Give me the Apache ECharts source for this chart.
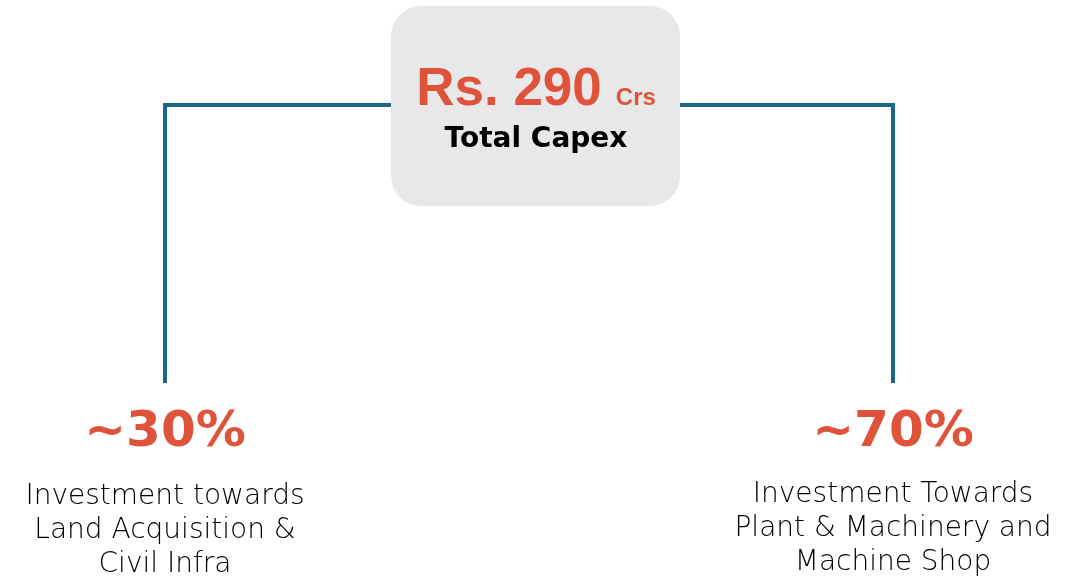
<!DOCTYPE html>
<html>
<head>
<meta charset="utf-8">
<script src="https://cdn.jsdelivr.net/npm/echarts@6/dist/echarts.min.js"></script>
<style>html,body{margin:0;padding:0;background:#fff}#c{width:1081px;height:577px}</style>
</head>
<body>
<div id="c"></div>
<script>
// ---- data ----
const totalValue = 290;
const totalUnit = 'Crs';
const totalLabel = 'Total Capex';
const shareValues = [30, 70];
const shareDescriptions = [
  ['Investment towards', 'Land Acquisition &', 'Civil Infra'],
  ['Investment Towards', 'Plant & Machinery and', 'Machine Shop']
];

const RED = '#e0533b';
const BLUE = '#1c6688';
const FONT = '"DejaVu Sans", "Noto Sans", sans-serif';
const FONT2 = '"Liberation Sans", Arial, sans-serif';

const chart = echarts.init(document.getElementById('c'), null, {renderer: 'canvas'});

// layout constants (not data)
const boxL = 391, boxR = 680, boxT = 6, boxB = 206;
const barY = 105, dropY = 383;
const branchX = [165, 893];
const pctY = [433, 433];
const descY = [[497, 531, 565], [495, 529, 563]];

chart.setOption({
  animation: false,
  xAxis: {show: false, type: 'value', min: 0, max: 1},
  yAxis: {show: false, type: 'value', min: 0, max: 1},
  grid: {left: 0, right: 0, top: 0, bottom: 0},
  series: [
    {
      type: 'custom',
      coordinateSystem: 'none',
      data: shareValues.map((v, i) => [i, v]),
      renderItem: function (params, api) {
        const i = api.value(0);
        const v = api.value(1);
        const x = branchX[i];
        const innerX = i === 0 ? boxL : boxR;
        const desc = shareDescriptions[i];
        const children = [
          {
            type: 'polyline',
            shape: {points: [[innerX, barY], [x, barY], [x, dropY]]},
            style: {stroke: BLUE, lineWidth: 4, fill: null, lineJoin: 'miter'}
          },
          {
            type: 'text',
            style: {
              x: x, y: pctY[i], text: '~' + v + '%',
              fill: RED, font: 'bold 50px ' + FONT,
              align: 'center', verticalAlign: 'middle'
            }
          }
        ];
        desc.forEach((line, k) => {
          children.push({
            type: 'text',
            style: {
              x: x, y: descY[i][k], text: line,
              fill: '#000', font: '300 28px ' + FONT,
              align: 'center', verticalAlign: 'middle'
            }
          });
        });
        return {type: 'group', children: children};
      },
      z: 1
    },
    {
      type: 'custom',
      coordinateSystem: 'none',
      data: [[totalValue]],
      renderItem: function (params, api) {
        const v = api.value(0);
        return {
          type: 'group',
          children: [
            {
              type: 'rect',
              shape: {x: boxL, y: boxT, width: boxR - boxL, height: boxB - boxT, r: 30},
              style: {fill: '#e8e8e8'}
            },
            {
              type: 'text',
              style: {
                x: 536, y: 90,
                text: '{big|Rs. ' + v + '}{gap| }{small|' + totalUnit + '}',
                rich: {
                  big: {fill: RED, font: 'bold 53px ' + FONT2, verticalAlign: 'bottom'},
                  gap: {font: '14px ' + FONT2, width: 14},
                  small: {fill: RED, font: 'bold 24px ' + FONT2, verticalAlign: 'bottom', padding: [0, 0, 6, 0]}
                },
                align: 'center', verticalAlign: 'middle'
              }
            },
            {
              type: 'text',
              style: {
                x: 536, y: 140, text: totalLabel,
                fill: '#000', font: 'bold 28px ' + FONT,
                align: 'center', verticalAlign: 'middle'
              }
            }
          ]
        };
      },
      z: 2
    }
  ]
});
</script>
</body>
</html>
